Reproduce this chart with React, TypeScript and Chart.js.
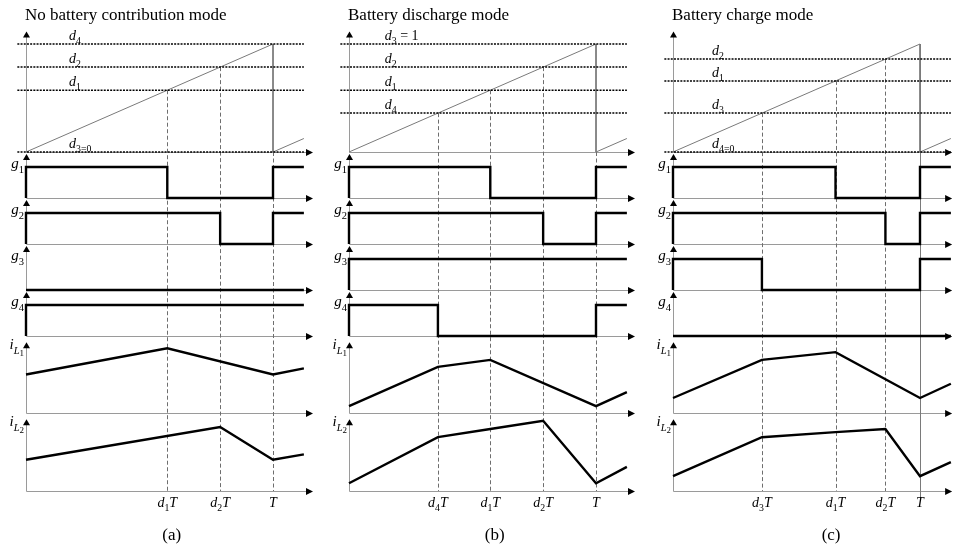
import { useEffect, useRef } from "react";
import { Chart, registerables } from "chart.js";

Chart.register(...registerables);

type Pt = [number, number];

const END = 1.125; // waveforms are drawn a little past one switching period
const LINE_START = -0.035; // duty reference lines start just left of the axis

// (a) No battery contribution mode
const aDuty = [0.572, 0.786, 0, 1]; // d1, d2, d3, d4
const aDutyNames = ["d_1", "d_2", "d_{3=0}", "d_4"];
const aG1: Pt[] = [[0, 0], [0, 1], [0.572, 0], [1, 1], [END, 1]];
const aG2: Pt[] = [[0, 0], [0, 1], [0.786, 0], [1, 1], [END, 1]];
const aG3: Pt[] = [[0, 0], [END, 0]];
const aG4: Pt[] = [[0, 0], [0, 1], [END, 1]];
const aIL1: Pt[] = [[0, 0.5], [0.572, 0.84], [1, 0.5], [END, 0.58]];
const aIL2: Pt[] = [[0, 0.4], [0.786, 0.82], [1, 0.4], [END, 0.47]];
const aTicks = [0.572, 0.786, 1];
const aTickNames = ["d_1T", "d_2T", "T"];

// (b) Battery discharge mode
const bDuty = [0.572, 0.786, 1, 0.36];
const bDutyNames = ["d_1", "d_2", "d_3 = 1", "d_4"];
const bG1: Pt[] = [[0, 0], [0, 1], [0.572, 0], [1, 1], [END, 1]];
const bG2: Pt[] = [[0, 0], [0, 1], [0.786, 0], [1, 1], [END, 1]];
const bG3: Pt[] = [[0, 0], [0, 1], [END, 1]];
const bG4: Pt[] = [[0, 0], [0, 1], [0.36, 0], [1, 1], [END, 1]];
const bIL1: Pt[] = [[0, 0.09], [0.36, 0.6], [0.572, 0.69], [1, 0.09], [END, 0.27]];
const bIL2: Pt[] = [[0, 0.1], [0.36, 0.69], [0.572, 0.795], [0.786, 0.9], [1, 0.1], [END, 0.31]];
const bTicks = [0.36, 0.572, 0.786, 1];
const bTickNames = ["d_4T", "d_1T", "d_2T", "T"];

// (c) Battery charge mode
const cDuty = [0.658, 0.86, 0.36, 0];
const cDutyNames = ["d_1", "d_2", "d_3", "d_{4=0}"];
const cG1: Pt[] = [[0, 0], [0, 1], [0.658, 0], [1, 1], [END, 1]];
const cG2: Pt[] = [[0, 0], [0, 1], [0.86, 0], [1, 1], [END, 1]];
const cG3: Pt[] = [[0, 0], [0, 1], [0.36, 0], [1, 1], [END, 1]];
const cG4: Pt[] = [[0, 0], [END, 0]];
const cIL1: Pt[] = [[0, 0.195], [0.36, 0.69], [0.658, 0.79], [1, 0.195], [END, 0.38]];
const cIL2: Pt[] = [[0, 0.19], [0.36, 0.69], [0.658, 0.755], [0.86, 0.795], [1, 0.19], [END, 0.37]];
const cTicks = [0.36, 0.658, 0.86, 1];
const cTickNames = ["d_3T", "d_1T", "d_2T", "T"];

const GATE_NAMES = ["g_1", "g_2", "g_3", "g_4"];
const CURRENT_NAMES = ["i_{L_1}", "i_{L_2}"];

// vertically stacked rows: carrier, four gate signals, two inductor currents
const ROWS = [
  { id: "ramp", h: 128, max: 128 / 108, tip: 1.115 },
  { id: "g1", h: 46, max: 46 / 31, tip: 1.42 },
  { id: "g2", h: 46, max: 46 / 31, tip: 1.42 },
  { id: "g3", h: 46, max: 46 / 31, tip: 1.42 },
  { id: "g4", h: 46, max: 46 / 31, tip: 1.42 },
  { id: "i1", h: 77, max: 1, tip: 0.92 },
  { id: "i2", h: 78, max: 1, tip: 0.92 },
];

const PX_PER_T = 247;
const HEIGHT = 551;
const FONT = '"Liberation Serif", "Times New Roman", Times, serif';
const AXIS = "#9a9a9a";
const RAMP = "#7a7a7a";
const MARK = "#6e6e6e";
const INK = "#000000";

interface PanelCfg {
  title: string;
  caption: string;
  left: number;
  width: number;
  origin: number;
  axisEnd: number;
  labelT: number;
  captionT: number;
  solidT: boolean;
  duty: number[];
  dutyNames: string[];
  gates: Pt[][];
  currents: Pt[][];
  ticks: number[];
  tickNames: string[];
}

const PANELS: PanelCfg[] = [
  {
    title: "No battery contribution mode", caption: "(a)",
    left: 0, width: 323, origin: 26, axisEnd: 1.162, labelT: 0.174, captionT: 0.59, solidT: false,
    duty: aDuty, dutyNames: aDutyNames, gates: [aG1, aG2, aG3, aG4], currents: [aIL1, aIL2],
    ticks: aTicks, tickNames: aTickNames,
  },
  {
    title: "Battery discharge mode", caption: "(b)",
    left: 323, width: 324, origin: 349, axisEnd: 1.158, labelT: 0.145, captionT: 0.59, solidT: false,
    duty: bDuty, dutyNames: bDutyNames, gates: [bG1, bG2, bG3, bG4], currents: [bIL1, bIL2],
    ticks: bTicks, tickNames: bTickNames,
  },
  {
    title: "Battery charge mode", caption: "(c)",
    left: 647, width: 309, origin: 673, axisEnd: 1.13, labelT: 0.158, captionT: 0.64, solidT: true,
    duty: cDuty, dutyNames: cDutyNames, gates: [cG1, cG2, cG3, cG4], currents: [cIL1, cIL2],
    ticks: cTicks, tickNames: cTickNames,
  },
];

// ---- rich text: italic letters, "_" subscripts, "{...}" groups ----
type Seg = { s: string; lvl: number };

function parseRich(src: string, lvl = 0): Seg[] {
  const out: Seg[] = [];
  let i = 0;
  while (i < src.length) {
    const c = src[i];
    if (c === "_") {
      i++;
      if (src[i] === "{") {
        let depth = 1;
        let j = i + 1;
        while (j < src.length && depth > 0) {
          if (src[j] === "{") depth++;
          else if (src[j] === "}") depth--;
          j++;
        }
        out.push(...parseRich(src.slice(i + 1, j - 1), lvl + 1));
        i = j;
      } else {
        out.push({ s: src[i], lvl: lvl + 1 });
        i++;
      }
    } else {
      out.push({ s: c, lvl });
      i++;
    }
  }
  return out;
}

const LVL_SIZE = [1, 0.7, 0.6];
const LVL_DY = [0, 0.3, 0.48];

function segFont(seg: Seg, size: number) {
  const it = /[A-Za-z]/.test(seg.s) ? "italic " : "";
  return `${it}${(size * LVL_SIZE[Math.min(seg.lvl, 2)]).toFixed(2)}px ${FONT}`;
}

function drawRich(
  ctx: CanvasRenderingContext2D,
  src: string,
  x: number,
  y: number,
  size: number,
  align: "left" | "right" | "center"
) {
  const segs = parseRich(src);
  ctx.textAlign = "left";
  ctx.textBaseline = "alphabetic";
  let w = 0;
  for (const s of segs) {
    ctx.font = segFont(s, size);
    w += ctx.measureText(s.s).width;
  }
  let cx = align === "left" ? x : align === "right" ? x - w : x - w / 2;
  for (const s of segs) {
    ctx.font = segFont(s, size);
    ctx.fillText(s.s, cx, y + size * LVL_DY[Math.min(s.lvl, 2)]);
    cx += ctx.measureText(s.s).width;
  }
}

const xy = (pts: Pt[]) => pts.map(([x, y]) => ({ x, y }));

function buildChart(canvas: HTMLCanvasElement, p: PanelCfg) {
  const xMin = (p.left - p.origin) / PX_PER_T;
  const xMax = (p.left + p.width - p.origin) / PX_PER_T;

  const scales: any = {
    x: { type: "linear", min: xMin, max: xMax, display: false },
  };
  ROWS.forEach((r, i) => {
    scales[r.id] = {
      type: "linear",
      position: "left",
      stack: "rows",
      stackWeight: r.h,
      weight: ROWS.length - i,
      min: 0,
      max: r.max,
      display: false,
    };
  });

  const line = (data: Pt[], yAxisID: string, extra: any = {}) => ({
    data: xy(data),
    yAxisID,
    xAxisID: "x",
    borderColor: INK,
    borderWidth: 2.4,
    pointRadius: 0,
    fill: false,
    clip: false as const,
    ...extra,
  });

  const datasets: any[] = [];
  p.gates.forEach((g, i) => datasets.push(line(g, `g${i + 1}`, { stepped: "before" })));
  p.currents.forEach((c, i) => datasets.push(line(c, `i${i + 1}`)));
  p.duty.forEach((d) =>
    datasets.push(
      line([[LINE_START, d], [END, d]], "ramp", { borderWidth: 1.5, borderDash: [2, 1.2] })
    )
  );
  // sawtooth carrier with its reset at T
  datasets.push(
    line([[0, 0], [1, 1], [1, 0], [END, END - 1]], "ramp", { borderColor: RAMP, borderWidth: 1 })
  );

  const diagram = {
    id: "diagram",
    beforeDatasetsDraw(chart: any) {
      const ctx: CanvasRenderingContext2D = chart.ctx;
      const X = (t: number) => chart.scales.x.getPixelForValue(t);
      const Y = (row: string, v: number) => chart.scales[row].getPixelForValue(v);
      const x0 = Math.round(X(0)) + 0.5;
      ctx.save();
      ctx.strokeStyle = AXIS;
      ctx.lineWidth = 1;
      ctx.beginPath();
      for (const r of ROWS) {
        const yb = Math.round(Y(r.id, 0)) + 0.5;
        ctx.moveTo(x0, yb);
        ctx.lineTo(X(p.axisEnd) - 4, yb);
        ctx.moveTo(x0, yb);
        ctx.lineTo(x0, Y(r.id, r.tip) + 4);
      }
      ctx.stroke();

      // switching instants projected down through every row
      const bottom = Y("i2", 0);
      for (const t of p.ticks) {
        const xt = Math.round(X(t)) + 0.5;
        ctx.beginPath();
        if (t === 1 && p.solidT) {
          ctx.setLineDash([]);
          ctx.strokeStyle = RAMP;
          ctx.moveTo(xt, Y("ramp", 1));
          ctx.lineTo(xt, bottom + 9);
        } else {
          ctx.setLineDash([4, 2.5]);
          ctx.strokeStyle = MARK;
          ctx.moveTo(xt, Y("ramp", t === 1 ? 0 : t));
          ctx.lineTo(xt, bottom);
        }
        ctx.stroke();
      }
      ctx.restore();
    },
    afterDatasetsDraw(chart: any) {
      const ctx: CanvasRenderingContext2D = chart.ctx;
      const X = (t: number) => chart.scales.x.getPixelForValue(t);
      const Y = (row: string, v: number) => chart.scales[row].getPixelForValue(v);
      const x0 = Math.round(X(0)) + 0.5;
      ctx.save();
      ctx.fillStyle = INK;

      // arrow heads
      for (const r of ROWS) {
        const yb = Math.round(Y(r.id, 0)) + 0.5;
        const xe = X(p.axisEnd);
        ctx.beginPath();
        ctx.moveTo(xe, yb);
        ctx.lineTo(xe - 7, yb - 3.5);
        ctx.lineTo(xe - 7, yb + 3.5);
        ctx.closePath();
        ctx.fill();
        const yt = Y(r.id, r.tip);
        ctx.beginPath();
        ctx.moveTo(x0, yt);
        ctx.lineTo(x0 - 3.5, yt + 6);
        ctx.lineTo(x0 + 3.5, yt + 6);
        ctx.closePath();
        ctx.fill();
      }

      // duty levels
      p.duty.forEach((d, i) => drawRich(ctx, p.dutyNames[i], X(p.labelT), Y("ramp", d) - 4, 14, "left"));

      // row names
      GATE_NAMES.forEach((n, i) => drawRich(ctx, n, X(0) - 2, Y(`g${i + 1}`, 1) + 1, 15, "right"));
      CURRENT_NAMES.forEach((n, i) => drawRich(ctx, n, X(0) - 2, Y(`i${i + 1}`, 0.83), 15, "right"));

      // time axis labels
      const base = Y("i2", 0);
      p.ticks.forEach((t, i) => drawRich(ctx, p.tickNames[i], X(t), base + 16, 14, "center"));

      // title and caption
      ctx.font = `17px ${FONT}`;
      ctx.textBaseline = "alphabetic";
      ctx.textAlign = "left";
      ctx.fillText(p.title, X(0) - 1, 20);
      ctx.textAlign = "center";
      ctx.fillText(p.caption, X(p.captionT), base + 49);
      ctx.restore();
    },
  };

  return new Chart(canvas, {
    type: "line",
    data: { datasets },
    options: {
      responsive: false,
      animation: false,
      events: [],
      layout: { padding: { top: 24, bottom: HEIGHT - 24 - 467, left: 0, right: 0 } },
      scales,
      plugins: { legend: { display: false }, tooltip: { enabled: false } },
    },
    plugins: [diagram],
  } as any);
}

function Panel({ cfg }: { cfg: PanelCfg }) {
  const ref = useRef<HTMLCanvasElement>(null);
  useEffect(() => {
    if (!ref.current) return;
    const chart = buildChart(ref.current, cfg);
    return () => chart.destroy();
  }, [cfg]);
  return (
    <canvas
      ref={ref}
      width={cfg.width}
      height={HEIGHT}
      style={{ position: "absolute", left: cfg.left, top: 0 }}
    />
  );
}

export default function App() {
  return (
    <div
      style={{
        position: "fixed",
        left: 0,
        top: 0,
        width: 956,
        height: HEIGHT,
        overflow: "hidden",
        background: "#ffffff",
      }}
    >
      {PANELS.map((p) => (
        <Panel key={p.caption} cfg={p} />
      ))}
    </div>
  );
}
